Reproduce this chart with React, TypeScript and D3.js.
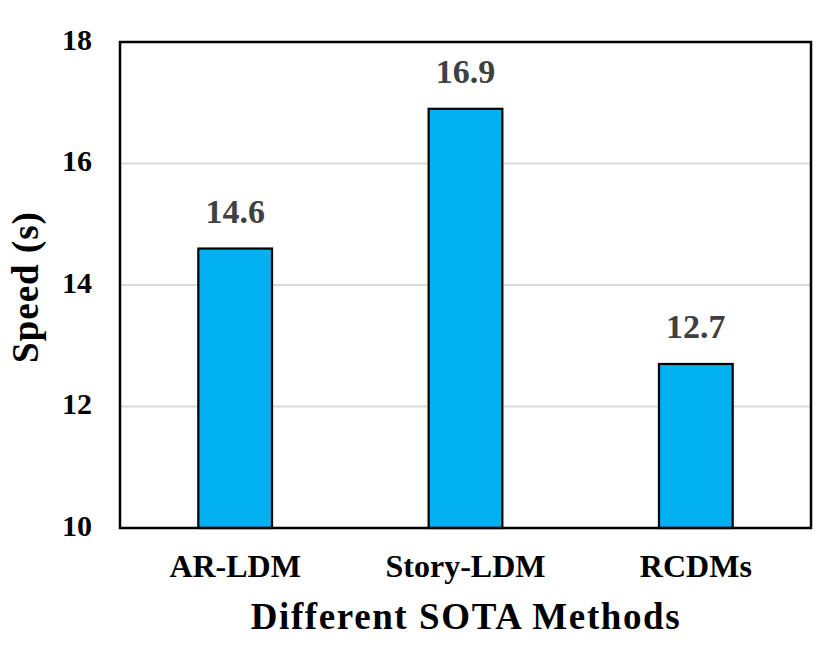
import React, { useRef, useEffect } from "react";
import * as d3 from "d3";

const categories = ["AR-LDM", "Story-LDM", "RCDMs"];
const speeds = [14.6, 16.9, 12.7];
const yTicks = [10, 12, 14, 16, 18];

const App = () => {
  const svgRef = useRef<SVGSVGElement>(null);

  useEffect(() => {
    const w = 829;
    const h = 652;
    const margin = { top: 42, right: 18, bottom: 124, left: 120 };
    const font = "'Liberation Serif', 'Times New Roman', serif";

    const svg = d3
      .select(svgRef.current)
      .attr("width", w)
      .attr("height", h)
      .style("background", "#fff")
      .style("display", "block");

    svg.selectAll("*").remove();

    const xScale = d3
      .scaleBand()
      .domain(categories)
      .range([margin.left, w - margin.right])
      .paddingInner(0.68)
      .paddingOuter(0.34);

    const yScale = d3
      .scaleLinear()
      .domain([10, 18])
      .range([h - margin.bottom, margin.top]);

    // grid lines
    svg
      .append("g")
      .selectAll("line")
      .data(yTicks.slice(1, -1))
      .enter()
      .append("line")
      .attr("x1", margin.left)
      .attr("x2", w - margin.right)
      .attr("y1", (d) => yScale(d))
      .attr("y2", (d) => yScale(d))
      .attr("stroke", "#d9d9d9")
      .attr("stroke-width", 2);

    // bars
    svg
      .append("g")
      .selectAll("rect")
      .data(speeds)
      .enter()
      .append("rect")
      .attr("x", (d, i) => xScale(categories[i])!)
      .attr("y", (d) => yScale(d))
      .attr("width", xScale.bandwidth())
      .attr("height", (d) => yScale(10) - yScale(d))
      .attr("fill", "#00b0f0")
      .attr("stroke", "#000")
      .attr("stroke-width", 2.2);

    // value labels
    svg
      .append("g")
      .selectAll("text")
      .data(speeds)
      .enter()
      .append("text")
      .attr("x", (d, i) => xScale(categories[i])! + xScale.bandwidth() / 2)
      .attr("y", (d) => yScale(d) - 26)
      .attr("text-anchor", "middle")
      .attr("font-family", font)
      .attr("font-weight", "bold")
      .attr("font-size", 34)
      .attr("fill", "#404040")
      .text((d) => d.toFixed(1));

    // frame
    svg
      .append("rect")
      .attr("x", margin.left)
      .attr("y", margin.top)
      .attr("width", w - margin.left - margin.right)
      .attr("height", h - margin.top - margin.bottom)
      .attr("fill", "none")
      .attr("stroke", "#000")
      .attr("stroke-width", 2.5);

    // y axis
    const yAxis = d3.axisLeft(yScale).tickValues(yTicks).tickSize(0).tickPadding(28);
    const gy = svg
      .append("g")
      .attr("transform", `translate(${margin.left}, 0)`)
      .call(yAxis);
    gy.select(".domain").remove();
    gy.selectAll(".tick text")
      .attr("dy", "0.24em")
      .attr("font-family", font)
      .attr("font-weight", "bold")
      .attr("font-size", 30)
      .attr("fill", "#000");

    // x axis
    const xAxis = d3.axisBottom(xScale).tickSize(0).tickPadding(0);
    const gx = svg
      .append("g")
      .attr("transform", `translate(0, ${h - margin.bottom})`)
      .call(xAxis);
    gx.select(".domain").remove();
    gx.selectAll(".tick text")
      .attr("y", 49)
      .attr("dy", 0)
      .attr("font-family", font)
      .attr("font-weight", "bold")
      .attr("font-size", 32)
      .attr("fill", "#000");

    // axis titles
    svg
      .append("text")
      .attr("transform", `translate(38, 287) rotate(-90)`)
      .attr("text-anchor", "middle")
      .attr("font-family", font)
      .attr("font-weight", "bold")
      .attr("font-size", 37)
      .attr("letter-spacing", 1)
      .attr("fill", "#000")
      .text("Speed (s)");

    svg
      .append("text")
      .attr("x", 466)
      .attr("y", 629)
      .attr("text-anchor", "middle")
      .attr("font-family", font)
      .attr("font-weight", "bold")
      .attr("font-size", 37)
      .attr("letter-spacing", 1.6)
      .attr("fill", "#000")
      .text("Different SOTA Methods");
  }, []);

  return (
    <div style={{ margin: -8 }}>
      <svg ref={svgRef}></svg>
    </div>
  );
};

export default App;
